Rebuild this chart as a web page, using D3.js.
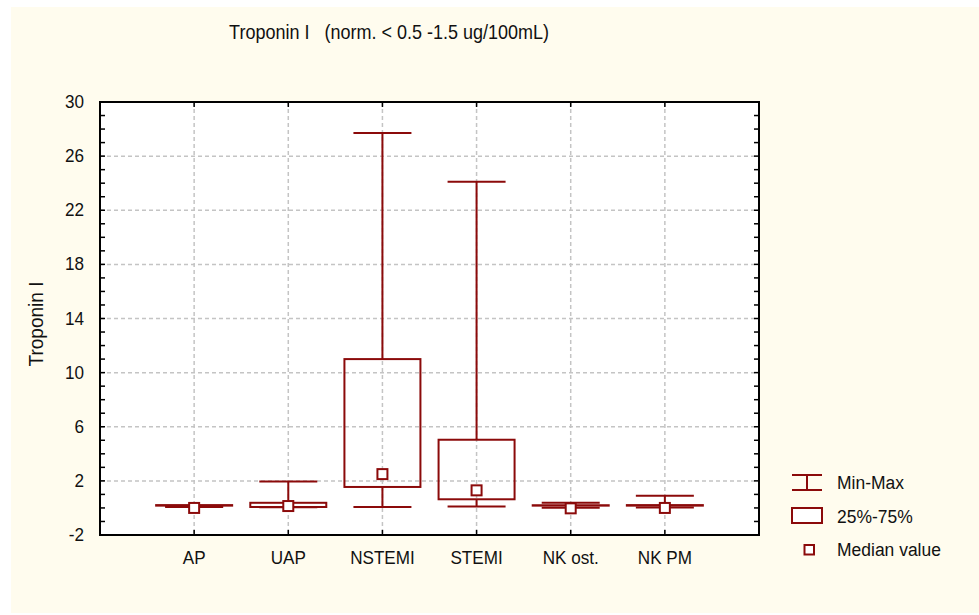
<!DOCTYPE html>
<html><head><meta charset="utf-8">
<script src="https://cdn.jsdelivr.net/npm/d3@7"></script>
<style>
html,body{margin:0;padding:0;background:#fff;}
text{font-family:"Liberation Sans",Arial,sans-serif;fill:#111;}
</style></head>
<body><svg id="c" width="979" height="615"></svg>
<script>
const categories = ["AP","UAP","NSTEMI","STEMI","NK ost.","NK PM"];
const minV   = [0.07, 0.05, 0.07, 0.1, 0.01, 0.04];
const q1V    = [0.17, 0.07, 1.55, 0.64, 0.17, 0.17];
const medianV= [0.0, 0.14, 2.5, 1.3, -0.03, 0.0];
const q3V    = [0.21, 0.38, 11.0, 5.04, 0.2, 0.21];
const maxV   = [0.12, 1.95, 27.7, 24.1, 0.38, 0.9];
const yTicks = [-2,2,6,10,14,18,22,26,30];
const yMinor = d3.range(-2,31,1);
const title = "Troponin I   (norm. < 0.5 -1.5 ug/100mL)";
const yLabel = "Troponin I";
const legendLabels = ["Min-Max","25%-75%","Median value"];

const red = "#8b0a0a";
const svg = d3.select("#c");
const L=100,R=759,T=102,B=535;
const x = d3.scaleLinear().domain([0,categories.length+1]).range([L,R]);
const y = d3.scaleLinear().domain([-2,30]).range([B,T]);

svg.append("rect").attr("x",11).attr("y",7).attr("width",968).attr("height",606).attr("fill","#fffcee");
svg.append("rect").attr("x",L).attr("y",T).attr("width",R-L).attr("height",B-T).attr("fill","#fff");

function txt(g,px,py,s,anchor,size,sx,rot){
  return g.append("text")
    .attr("transform",`translate(${px},${py})${rot?` rotate(${rot})`:""} scale(${sx},1)`)
    .attr("text-anchor",anchor).style("font-size",size+"px")
    .attr("xml:space","preserve").style("white-space","pre").text(s);
}

// grid
const grid = svg.append("g").attr("stroke","#c4c4c4").attr("stroke-width",1.5).attr("stroke-dasharray","4,3");
grid.selectAll("line.h").data(yTicks.filter(v=>v>-2&&v<30)).join("line")
  .attr("x1",L).attr("x2",R).attr("y1",d=>y(d)).attr("y2",d=>y(d));
grid.selectAll("line.v").data(categories).join("line")
  .attr("x1",(d,i)=>x(i+1)).attr("x2",(d,i)=>x(i+1)).attr("y1",T).attr("y2",B);

// ticks
const tk = svg.append("g").attr("stroke","#000").attr("stroke-width",1.5);
tk.selectAll("line.l").data(yMinor).join("line").attr("x1",L).attr("x2",L+5).attr("y1",d=>y(d)).attr("y2",d=>y(d));
tk.selectAll("line.r").data(yMinor).join("line").attr("x1",R).attr("x2",R-5).attr("y1",d=>y(d)).attr("y2",d=>y(d));
tk.selectAll("line.t").data(categories).join("line").attr("x1",(d,i)=>x(i+1)).attr("x2",(d,i)=>x(i+1)).attr("y1",T).attr("y2",T+5);
tk.selectAll("line.b").data(categories).join("line").attr("x1",(d,i)=>x(i+1)).attr("x2",(d,i)=>x(i+1)).attr("y1",B).attr("y2",B-5);

// frame
svg.append("rect").attr("x",L).attr("y",T).attr("width",R-L).attr("height",B-T).attr("fill","none").attr("stroke","#000").attr("stroke-width",2);

// boxes
const g = svg.append("g").attr("stroke",red).attr("stroke-width",2).attr("fill","none");
const boxW=76, capW=58, med=10;
categories.forEach((c,i)=>{
  const cx = x(i+1);
  g.append("line").attr("x1",cx).attr("x2",cx).attr("y1",y(q3V[i])).attr("y2",y(maxV[i]));
  g.append("line").attr("x1",cx).attr("x2",cx).attr("y1",y(q1V[i])).attr("y2",y(minV[i]));
  g.append("line").attr("x1",cx-capW/2).attr("x2",cx+capW/2).attr("y1",y(maxV[i])).attr("y2",y(maxV[i]));
  g.append("line").attr("x1",cx-capW/2).attr("x2",cx+capW/2).attr("y1",y(minV[i])).attr("y2",y(minV[i]));
  g.append("rect").attr("x",cx-boxW/2).attr("width",boxW).attr("y",y(q3V[i])).attr("height",Math.max(0,y(q1V[i])-y(q3V[i])));
  g.append("rect").attr("x",cx-med/2).attr("y",y(medianV[i])-med/2).attr("width",med).attr("height",med).attr("fill","#fff");
});

// labels
const tg = svg.append("g");
yTicks.forEach(v=>txt(tg,84,y(v)+6,String(v),"end",19,0.9));
categories.forEach((c,i)=>txt(tg,x(i+1),564,c,"middle",19,0.9));
txt(tg,389,39,title,"middle",20,0.9);
txt(tg,43,324,yLabel,"middle",20.5,0.93,-90);

// legend
const lg = svg.append("g").attr("stroke",red).attr("stroke-width",2).attr("fill","none");
lg.append("line").attr("x1",792).attr("x2",822).attr("y1",475).attr("y2",475);
lg.append("line").attr("x1",792).attr("x2",822).attr("y1",490).attr("y2",490);
lg.append("line").attr("x1",807).attr("x2",807).attr("y1",475).attr("y2",490);
lg.append("rect").attr("x",792).attr("y",508).attr("width",30).attr("height",15).attr("fill","#fff");
lg.append("rect").attr("x",804.5).attr("y",545).attr("width",9.5).attr("height",9.5).attr("fill","#fff");
legendLabels.forEach((s,i)=>txt(tg,837,[489,523,556][i],s,"start",19,0.92));
</script></body></html>
